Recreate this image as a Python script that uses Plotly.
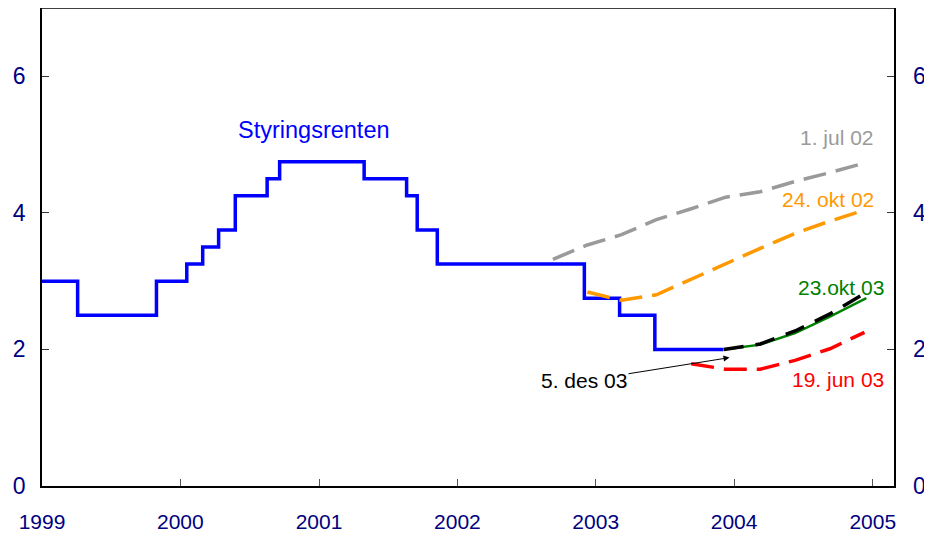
import plotly.graph_objects as go

# ---- data ----
policy_dates = ["1999-01-01", "1999-04-05", "1999-10-30", "2000-01-18", "2000-02-29",
                "2000-04-11", "2000-05-25", "2000-08-17", "2000-09-19", "2001-04-30",
                "2001-08-20", "2001-09-17", "2001-11-09", "2002-12-02", "2003-03-05",
                "2003-06-06", "2003-12-04"]
policy_rate = [3.0, 2.5, 3.0, 3.25, 3.5, 3.75, 4.25, 4.5, 4.75, 4.5,
               4.25, 3.75, 3.25, 2.75, 2.5, 2.0, 2.0]

jul02_dates = ["2002-09-10", "2002-12-10", "2003-03-10", "2003-06-10", "2003-09-10",
               "2003-12-10", "2004-03-10", "2004-06-10", "2004-09-10", "2004-12-10"]
jul02_vals = [3.32, 3.53, 3.68, 3.90, 4.06, 4.23, 4.31, 4.46, 4.59, 4.73]

okt02_dates = ["2002-12-10", "2003-03-10", "2003-06-10", "2003-09-10", "2003-12-10",
               "2004-03-10", "2004-06-10", "2004-09-10", "2004-12-10"]
okt02_vals = [2.84, 2.72, 2.80, 3.03, 3.25, 3.48, 3.70, 3.88, 4.04]

jun03_dates = ["2003-09-10", "2003-12-10", "2004-03-10", "2004-06-10", "2004-09-10", "2004-12-10"]
jun03_vals = [1.79, 1.71, 1.71, 1.84, 2.01, 2.25]

okt03_dates = ["2003-12-05", "2004-03-10", "2004-06-10", "2004-09-10", "2004-12-15"]
okt03_vals = [2.0, 2.07, 2.24, 2.48, 2.75]

des03_dates = ["2003-12-05", "2004-03-10", "2004-06-10", "2004-09-10", "2004-12-10"]
des03_vals = [2.0, 2.08, 2.27, 2.52, 2.82]

year_ticks = [1999, 2000, 2001, 2002, 2003, 2004, 2005]
y_ticks = [0, 2, 4, 6]

FONT = "Liberation Sans, Arial, sans-serif"
NAVY = "#000080"
NBSP = "\u00a0"

fig = go.Figure()

fig.add_trace(go.Scatter(x=policy_dates, y=policy_rate, mode="lines", line_shape="hv",
                         line=dict(color="#0000FF", width=3.5), showlegend=False))
fig.add_trace(go.Scatter(x=jul02_dates, y=jul02_vals, mode="lines",
                         line=dict(color="#9A9A9A", width=3.5, dash="23px,10px"), showlegend=False))
fig.add_trace(go.Scatter(x=okt02_dates, y=okt02_vals, mode="lines",
                         line=dict(color="#FF9900", width=3.5, dash="23px,10px"), showlegend=False))
fig.add_trace(go.Scatter(x=jun03_dates, y=jun03_vals, mode="lines",
                         line=dict(color="#FF0000", width=3.5, dash="23px,10px"), showlegend=False))
fig.add_trace(go.Scatter(x=okt03_dates, y=okt03_vals, mode="lines",
                         line=dict(color="#008000", width=2.5), showlegend=False))
fig.add_trace(go.Scatter(x=des03_dates, y=des03_vals, mode="lines",
                         line=dict(color="#000000", width=3.5, dash="20px,12px"), showlegend=False))
# invisible trace so the right-hand axis is drawn
fig.add_trace(go.Scatter(x=[policy_dates[0]], y=[policy_rate[0]], yaxis="y2", mode="markers",
                         marker=dict(opacity=0), showlegend=False, hoverinfo="skip"))

ann_font = dict(family=FONT, size=21)
fig.add_annotation(x="2000-12-18", y=5.22, text="Styringsrenten", showarrow=False,
                   font=dict(family=FONT, size=23.5, color="#0000FF"), xanchor="center", yanchor="middle")
fig.add_annotation(x="2005-01-09", y=5.11, text="1. jul 02", showarrow=False,
                   font=dict(ann_font, color="#9A9A9A"), xanchor="right", yanchor="middle")
fig.add_annotation(x="2005-01-09", y=4.20, text="24. okt 02", showarrow=False,
                   font=dict(ann_font, color="#FF9900"), xanchor="right", yanchor="middle")
fig.add_annotation(x="2005-02-06", y=2.90, text="23.okt 03", showarrow=False,
                   font=dict(ann_font, color="#008000"), xanchor="right", yanchor="middle")
fig.add_annotation(x="2005-02-06", y=1.565, text="19. jun 03", showarrow=False,
                   font=dict(ann_font, color="#FF0000"), xanchor="right", yanchor="middle")
fig.add_annotation(x="2003-12-20", y=1.88, ax="2002-12-01", ay=1.54, axref="x", ayref="y",
                   text="5. des 03", showarrow=True, arrowhead=2, arrowsize=1.2, arrowwidth=1,
                   arrowcolor="#000000", standoff=0,
                   font=dict(ann_font, color="#000000"))

# top border
fig.add_shape(type="line", xref="paper", yref="paper", x0=0, x1=1, y0=1, y1=1,
              line=dict(color="#000000", width=1.5))

# page body has an 8px margin, so the figure is sized to fit inside the window
fig.update_layout(
    width=924, height=526,
    margin=dict(l=34, r=38, t=0, b=48),
    paper_bgcolor="white", plot_bgcolor="white",
    font=dict(family=FONT, color=NAVY),
    xaxis=dict(type="date", range=["1999-01-01", "2005-02-26"],
               tickvals=[f"{y}-01-01" for y in year_ticks],
               ticktext=[str(y) for y in year_ticks],
               ticks="inside", ticklen=7, tickwidth=1, tickcolor="#555555",
               showline=True, linecolor="#000000", linewidth=2,
               showgrid=False, zeroline=False, automargin=False,
               tickfont=dict(family=FONT, size=21, color=NAVY),
               ticklabelstandoff=16),
    yaxis=dict(range=[0, 7], tickvals=y_ticks, ticks="inside", ticklen=7, tickwidth=1,
               tickcolor="#333333", showline=True, linecolor="#000000", linewidth=1.5,
               showgrid=False, zeroline=False, automargin=False,
               tickfont=dict(family=FONT, size=23, color=NAVY),
               ticklabelstandoff=10),
    yaxis2=dict(range=[0, 7], tickvals=y_ticks, ticktext=[NBSP * 2 + str(v) for v in y_ticks],
                ticks="inside", ticklen=7, tickwidth=1,
                tickcolor="#333333", showline=True, linecolor="#000000", linewidth=1.5,
                showgrid=False, zeroline=False, overlaying="y", side="right", automargin=False,
                tickfont=dict(family=FONT, size=23, color=NAVY)),
)

fig.write_html("out.html")
